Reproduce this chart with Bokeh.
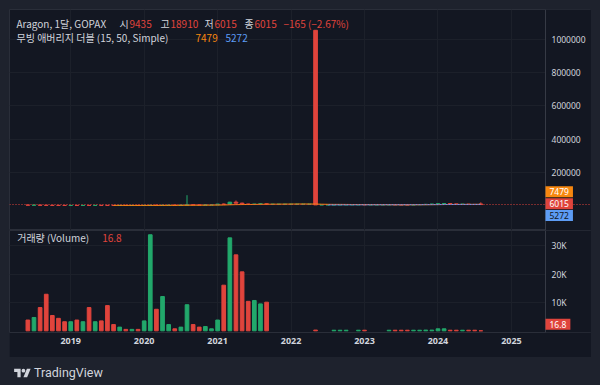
import numpy as np
import pandas as pd
from bokeh.plotting import figure
from bokeh.layouts import column
from bokeh.models import (Range1d, FixedTicker, LinearAxis, Label, Span, Div, Grid, BoxAnnotation,
                          ColumnDataSource, BasicTickFormatter, GlobalInlineStyleSheet)
from bokeh.embed import file_html
from bokeh.resources import INLINE

# ---------------- data ----------------
months = [str(p) for p in pd.period_range("2018-06", "2024-08", freq="M")]
opens = [2600, 2000, 2300, 1300, 800, 650, 400,
         300, 450, 380, 550, 420, 650, 620, 520, 480, 550, 480, 520,
         420, 650, 1800, 1000, 1700, 1800, 1600, 2500, 4500, 3500, 2800, 3800,
         4000, 8500, 6500, 20000, 14000, 9000, 7000, 8500, 10000, 7500, 7500, 7500,
         7500, 7500, 7500, 7500, 1054000, 3500, 3800, 4000, 4300, 4500, 4600, 4600,
         4650, 4450, 4450, 4450, 4450, 4900, 4200, 3900, 3600, 4800, 5800, 7200,
         8500, 10500, 11500, 9500, 7200, 8000, 6500, 9435]
highs = [3000, 2600, 2400, 1500, 900, 700, 450,
         500, 500, 600, 1300, 700, 900, 1000, 560, 600, 560, 600, 530,
         700, 2000, 1900, 1800, 2000, 2000, 3000, 62000, 5000, 3600, 4000, 4200,
         9000, 12000, 22000, 30000, 17000, 10000, 9000, 11000, 10500, 7500, 7500, 7500,
         7500, 7500, 7500, 7500, 1054000, 4000, 4200, 4500, 4600, 4800, 4600, 4700,
         4700, 4450, 4450, 4450, 5000, 5000, 4300, 4000, 5000, 6000, 7500, 9000,
         11000, 12000, 12500, 9800, 8500, 8200, 7000, 18910]
lows = [1900, 1800, 1200, 700, 600, 350, 250,
        280, 350, 370, 400, 400, 600, 500, 450, 470, 450, 470, 400,
        400, 640, 700, 950, 1600, 1500, 1550, 2400, 3000, 2500, 2600, 3300,
        3800, 6000, 6000, 12000, 7000, 6000, 5500, 8000, 7000, 7500, 7500, 7500,
        7500, 7500, 7500, 7500, 3000, 3000, 3500, 3800, 4200, 4400, 4600, 4500,
        4400, 4450, 4450, 4450, 4400, 4000, 3800, 3500, 3500, 4700, 5700, 7000,
        8000, 10000, 9000, 7000, 7000, 6000, 6000, 6015]
closes = [2000, 2300, 1300, 800, 650, 400, 300,
          450, 380, 550, 420, 650, 620, 520, 480, 550, 480, 520, 420,
          650, 1800, 1000, 1700, 1800, 1600, 2500, 4500, 3500, 2800, 3800, 4000,
          8500, 6500, 20000, 14000, 9000, 7000, 8500, 10000, 7500, 7500, 7500, 7500,
          7500, 7500, 7500, 7500, 3500, 3800, 4000, 4300, 4500, 4600, 4600, 4650,
          4450, 4450, 4450, 4450, 4900, 4200, 3900, 3600, 4800, 5800, 7200, 8500,
          10500, 11500, 9500, 7200, 8000, 6500, 6180, 6015]
volumes = [3800, 4700, 8200, 12900, 5400, 4400, 3200,
           3200, 3800, 3200, 8200, 3200, 3500, 8900, 2200, 1300, 500, 500, 500,
           3500, 33900, 7600, 12100, 2200, 700, 1300, 9200, 2200, 1300, 1500, 700,
           3800, 16100, 32800, 26800, 20800, 10400, 10700, 9500, 10100, 0, 0, 0,
           0, 0, 0, 0, 250, 0, 0, 200, 200, 200, 0, 200,
           200, 0, 0, 0, 200, 200, 200, 200, 200, 200, 250, 250,
           700, 700, 200, 200, 200, 200, 200, 16.8]

year_labels = ["2019", "2020", "2021", "2022", "2023", "2024", "2025"]
price_ticks = [200000, 400000, 600000, 800000, 1000000]
vol_ticks = [10000, 20000, 30000]
vol_tick_labels = ["10K", "20K", "30K"]

symbol_text = "Aragon, 1달, GOPAX"
ohlc_names = ["시", "고", "저", "종"]
ohlc_values = ["9435", "18910", "6015", "6015"]
change_text = "−165 (−2.67%)"
ma_title = "무빙 애버리지 더블 (15, 50, Simple)"
ma_values = ["7479", "5272"]
vol_title = "거래량 (Volume)"
vol_value = "16.8"

# ---------------- styling ----------------
BG = "#131722"
OUTER = "#1e222d"
BORDER = "#2a2e39"
SEP = "#363a45"
GRID = "#1c202a"
TXT = "#d1d4dc"
RED = "#e0443c"
GREEN = "#22a86b"
ORANGE = "#f7870f"
BLUE = "#5d9cf5"
KR = "Noto Sans CJK KR"

per = pd.PeriodIndex(months, freq="M")
mx = (per.year - 2019) * 12 + (per.month - 1)
o = np.array(opens, float); c = np.array(closes, float)
up = c >= o
colors = [GREEN if u else RED for u in up]
sma15 = pd.Series(c).rolling(15).mean()
sma50 = pd.Series(c).rolling(50).mean()
vol = np.array(volumes, float)
vol_top = np.where(vol > 0, vol, np.nan)

src = ColumnDataSource(dict(x=mx, o=o, h=highs, l=lows, c=c,
                            top=np.maximum(o, c), bot=np.minimum(o, c),
                            vol=vol_top, col=colors,
                            ma15=sma15, ma50=sma50))

year_ticks = [(int(y) - 2019) * 12 for y in year_labels]
SCALE_X = 77.57          # month position of the price-scale edge
xr = Range1d(-10.0, 85.08)

common = dict(frame_width=582, x_range=xr, output_backend="svg", toolbar_location=None,
              min_border_left=0, min_border_right=0, background_fill_color=BG,
              border_fill_color=BG, outline_line_color=BORDER,
              x_axis_location=None, y_axis_location=None)


def add_grids(fig, yticks):
    for g in list(fig.grid):
        g.visible = False
    fig.add_layout(Grid(dimension=0, ticker=FixedTicker(ticks=year_ticks), grid_line_color=GRID))
    fig.add_layout(Grid(dimension=1, ticker=FixedTicker(ticks=yticks), grid_line_color=GRID))
    fig.add_layout(BoxAnnotation(left=SCALE_X, fill_color=BG, fill_alpha=1.0,
                                 line_color=None, level="underlay"))


def scale_axis(fig, ticks, **kw):
    ax = LinearAxis(ticker=FixedTicker(ticks=ticks), fixed_location=SCALE_X,
                    major_tick_line_color=None, minor_tick_line_color=None,
                    major_tick_out=0, major_tick_in=0,
                    axis_line_color=SEP, major_label_text_color=TXT,
                    major_label_text_font="Noto Sans", major_label_text_font_size="8.5px",
                    major_label_standoff=6, **kw)
    fig.add_layout(ax, "right")


def lab(fig, px, sy, text, color, size="10px"):
    fig.add_layout(Label(x=px - 9, y=sy, x_units="screen", y_units="screen", text=text,
                         text_color=color, text_font=KR, text_font_size=size,
                         text_baseline="middle", text_align="left"))


def tag(fig, sy, text, bg, fg):
    fig.add_layout(Label(x=536, y=sy, x_units="screen", y_units="screen", text=text,
                         text_color=fg, text_font="Noto Sans", text_font_size="8.5px",
                         text_baseline="middle", text_align="left",
                         background_fill_color=bg, padding=(4, 2)))


# ---------------- price pane ----------------
p = figure(frame_height=221, y_range=Range1d(-150400, 1179000),
           min_border_top=0, min_border_bottom=0, **common)
add_grids(p, price_ticks)
scale_axis(p, price_ticks, formatter=BasicTickFormatter(use_scientific=False))

p.segment(x0="x", y0="l", x1="x", y1="h", color="col", line_width=1, source=src)
p.vbar(x="x", top="top", bottom="bot", width=0.6, fill_color="col", line_color="col",
       line_width=1, source=src)
p.line(x="x", y="ma15", color=ORANGE, line_width=1, source=src)
p.line(x="x", y="ma50", color=BLUE, line_width=1, source=src)
p.add_layout(Span(location=closes[-1], dimension="width", line_color=RED,
                  line_dash="1 2", line_width=1))

lab(p, 16, 207, symbol_text, TXT)
for px_n, px_v, n, v in zip([119, 160, 204, 244], [129, 170, 214, 254], ohlc_names, ohlc_values):
    lab(p, px_n, 207, n, TXT)
    lab(p, px_v, 207, v, RED)
lab(p, 283, 207, change_text, RED)
lab(p, 16, 193, ma_title, TXT)
lab(p, 195, 193, ma_values[0], ORANGE)
lab(p, 225, 193, ma_values[1], BLUE)

tag(p, 38.7, ma_values[0], ORANGE, "#ffffff")
tag(p, 26.8, ohlc_values[3], RED, "#ffffff")
tag(p, 15.0, ma_values[1], BLUE, BG)

# ---------------- volume pane ----------------
v = figure(frame_height=102, y_range=Range1d(-600, 35400),
           min_border_top=0, min_border_bottom=25, **common)
add_grids(v, vol_ticks)
scale_axis(v, vol_ticks,
           major_label_overrides={t: s for t, s in zip(vol_ticks, vol_tick_labels)})
xax = LinearAxis(ticker=FixedTicker(ticks=year_ticks),
                 major_label_overrides={t: s for t, s in zip(year_ticks, year_labels)},
                 major_tick_line_color=None, minor_tick_line_color=None,
                 major_tick_out=0, major_tick_in=0,
                 axis_line_color=None, major_label_text_color=TXT,
                 major_label_text_font="Noto Sans", major_label_text_font_size="9px",
                 major_label_text_font_style="bold", major_label_standoff=5)
v.add_layout(xax, "below")

v.vbar(x="x", top="vol", bottom=0, width=0.6, fill_color="col", line_color="col",
       line_width=1, source=src)

lab(v, 16.7, 94.7, vol_title, TXT)
lab(v, 101.7, 94.7, vol_value, RED)
tag(v, 8.3, vol_value, RED, "#ffffff")

# ---------------- footer ----------------
logo = ('<svg width="17" height="13" viewBox="0 0 36 28" style="margin-right:3px">'
        '<path fill="#d1d4dc" d="M14 22H7V11H0V4h14v18zM28 22h-8l7.5-18h8L28 22z"/>'
        '<circle fill="#d1d4dc" cx="20" cy="8" r="4"/></svg>')
footer = Div(text=('<div style="display:flex;align-items:center;padding-top:3px;'
                   'color:#d1d4dc;font-family:Roboto;font-size:12.5px;line-height:16px;">'
                   + logo + '<span>TradingView</span></div>'),
             width=582, height=28)

layout = column(p, v, footer, margin=(9, 0, 0, 9),
                stylesheets=[GlobalInlineStyleSheet(css="html,body{background:%s;}" % OUTER)])

open("out.html", "w").write(file_html(layout, INLINE))
